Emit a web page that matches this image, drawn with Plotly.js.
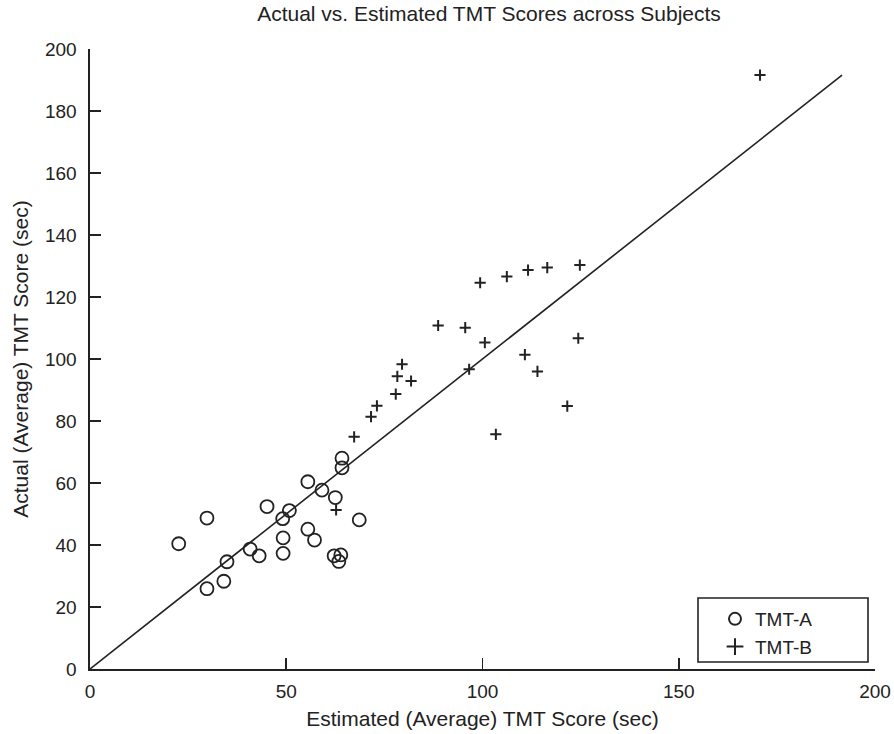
<!DOCTYPE html>
<html>
<head>
<meta charset="utf-8">
<script src="https://cdn.plot.ly/plotly-3.0.1.min.js"></script>
<style>html,body{margin:0;padding:0;background:#fff;}#chart{width:894px;height:734px;}</style>
</head>
<body>
<div id="chart"></div>
<script>
// TMT-A (circles): estimated vs actual
const tmtA_est = [22.6, 29.8, 29.8, 34.1, 34.9, 40.8, 43.1, 45.1, 49.1, 50.8, 49.2, 49.2, 55.5, 55.5, 57.2, 59.1, 62.5, 64.2, 64.2, 68.6, 62.2, 63.9, 63.4];
const tmtA_act = [40.4, 48.7, 25.9, 28.3, 34.6, 38.7, 36.5, 52.4, 48.5, 51.1, 42.3, 37.3, 60.4, 45.1, 41.6, 57.7, 55.3, 68.0, 64.9, 48.1, 36.5, 36.8, 34.7];
// TMT-B (pluses)
const tmtB_est = [62.7, 67.3, 71.6, 73.1, 77.9, 78.3, 79.5, 81.8, 88.7, 95.6, 96.6, 100.6, 99.4, 106.2, 111.6, 116.5, 124.8, 124.4, 110.8, 114.0, 121.6, 103.4, 170.7];
const tmtB_act = [51.3, 74.9, 81.4, 84.9, 88.7, 94.4, 98.3, 92.9, 110.8, 110.1, 96.7, 105.3, 124.6, 126.6, 128.7, 129.5, 130.3, 106.7, 101.4, 96.0, 84.8, 75.7, 191.6];
// identity line
const idLine = [0, 191.6];
const tickVals = [0, 50, 100, 150, 200];
const yTickVals = [0, 20, 40, 60, 80, 100, 120, 140, 160, 180, 200];

const ink = '#222';
const fontFam = 'Liberation Sans, Arial, sans-serif';

const traces = [
  {x: idLine, y: idLine, mode: 'lines', line: {color: ink, width: 1.6}, showlegend: false, hoverinfo: 'skip'},
  {x: tmtA_est, y: tmtA_act, mode: 'markers', name: 'TMT-A',
   marker: {symbol: 'circle-open', size: 13, color: ink, line: {color: ink, width: 1.8}}},
  {x: tmtB_est, y: tmtB_act, mode: 'markers', name: 'TMT-B',
   marker: {symbol: 'cross-thin-open', size: 8, color: ink, line: {color: ink, width: 2}}}
];

const plotL = 90, plotR = 875, plotT = 49, plotB = 669, W = 894, H = 734;
const pw = plotR - plotL, ph = plotB - plotT;
const px = v => (v - plotL) / pw;
const py = v => (plotB - v) / ph;

const layout = {
  width: W, height: H,
  margin: {l: plotL, r: W - plotR, t: plotT, b: H - plotB, pad: 0},
  paper_bgcolor: '#fff', plot_bgcolor: '#fff',
  font: {family: fontFam, color: ink, size: 18},
  title: {text: 'Actual vs. Estimated TMT Scores across Subjects', font: {size: 21, color: ink},
          x: 0.547, xanchor: 'center', xref: 'container', y: 1 - 14/734, yanchor: 'middle', yref: 'container'},
  xaxis: {range: [0, 200], tickvals: tickVals, ticks: 'inside', ticklen: 11, tickwidth: 1.6, tickcolor: ink,
          showline: true, linecolor: ink, linewidth: 1.6, mirror: false, showgrid: false, zeroline: false,
          tickfont: {size: 19}, ticklabelstandoff: 5, fixedrange: true,
          title: {text: 'Estimated (Average) TMT Score (sec)', font: {size: 21}, standoff: 10}},
  yaxis: {range: [0, 200], tickvals: yTickVals, ticks: 'inside', ticklen: 11, tickwidth: 1.6, tickcolor: ink,
          showline: true, linecolor: ink, linewidth: 1.6, mirror: false, showgrid: false, zeroline: false,
          tickfont: {size: 19}, ticklabelstandoff: 8, fixedrange: true,
          title: {text: 'Actual (Average) TMT Score (sec)', font: {size: 21}, standoff: 10}},
  shapes: [
    {type: 'rect', xref: 'paper', yref: 'paper', x0: px(698), x1: px(868), y0: py(662), y1: py(598),
     line: {color: ink, width: 1.6}, fillcolor: '#fff', layer: 'below'}
  ],
  legend: {x: px(715), y: py(600), xanchor: 'left', yanchor: 'top', bgcolor: 'rgba(0,0,0,0)', borderwidth: 0,
           font: {size: 19}, itemsizing: 'constant', tracegroupgap: 0},
  showlegend: true
};

Plotly.newPlot('chart', traces, layout, {displayModeBar: false, staticPlot: true});
</script>
</body>
</html>
